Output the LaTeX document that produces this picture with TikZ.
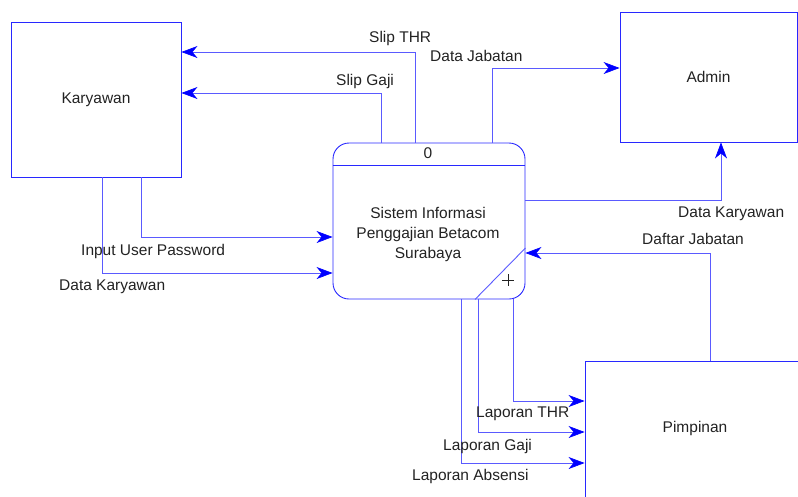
\documentclass[tikz,border=0pt]{standalone}
\usepackage{fontspec}
\setmainfont{Liberation Sans}
\usetikzlibrary{arrows.meta}
\definecolor{flowblue}{RGB}{90,90,255}
\definecolor{edgeblue}{RGB}{40,40,255}
\definecolor{tipblue}{RGB}{0,0,255}
\definecolor{inkgray}{RGB}{34,34,34}
\begin{document}
\begin{tikzpicture}[x=1pt,y=-1pt,
  every node/.style={font=\fontsize{15.5}{17}\selectfont, text=inkgray},
  entity/.style={draw=edgeblue, line width=0.9pt, rectangle, inner sep=0pt},
  procbox/.style={draw=edgeblue, line width=0.9pt, rectangle, rounded corners=16pt,
    minimum width=192pt, minimum height=156pt, inner sep=0pt},
  edge/.style={draw=edgeblue, line width=0.9pt},
  flow/.style={draw=flowblue, line width=0.8pt,
    -{Stealth[length=16pt,width=12pt,inset=5pt,line width=0.6pt,color=tipblue,fill=tipblue]}},
  lbl/.style={anchor=west, inner sep=0pt},
]
\useasboundingbox (0,0) rectangle (798,496);
\clip (0,0) rectangle (798,496);

% external entities
\node[entity, minimum width=170pt, minimum height=155pt] (kary) at (96,99.5) {Karyawan};
\node[entity, minimum width=177pt, minimum height=130pt] (admin) at (708.5,77) {Admin};
\node[entity, minimum width=220pt, minimum height=150pt] (pimp) at (695,436) {};
\node (pimptext) at (695,428) {Pimpinan};

% process
\node[procbox] (proc) at (429,221) {};
\coordinate (hdr) at (0,165);
\draw[edge] (proc.west |- hdr) -- (proc.east |- hdr);
\coordinate (dg1) at (475,0);
\coordinate (dg2) at (0,248);
\draw[edge, draw=flowblue] (proc.south -| dg1) -- (proc.east |- dg2);
\node (pnum) at (428,153) {0};
\node[align=center, font=\fontsize{15.5}{20}\selectfont] (ptext) at (428,234)
  {Sistem Informasi\\Penggajian Betacom\\Surabaya};
\draw[draw=inkgray, line width=0.7pt] (502,280) -- (514,280) (508,274) -- (508,286);

% bend coordinates of the data flows
\coordinate (sT) at (415,52);
\coordinate (sG) at (381,93);
\coordinate (dJ) at (492,68);
\coordinate (dK) at (721,200);
\coordinate (fJ) at (710,253);
\coordinate (iU) at (141,237);
\coordinate (dL) at (102,273);
\coordinate (lT) at (513,401);
\coordinate (lG) at (478,432);
\coordinate (lA) at (461,463);

% data flows
\draw[flow] (proc.north -| sT) |- (kary.east |- sT);
\draw[flow] (proc.north -| sG) |- (kary.east |- sG);
\draw[flow] (proc.north -| dJ) |- (admin.west |- dJ);
\draw[flow] (proc.east |- dK) -| (admin.south -| dK);
\draw[flow] (pimp.north -| fJ) |- (proc.east |- fJ);
\draw[flow] (kary.south -| iU) |- (proc.west |- iU);
\draw[flow] (kary.south -| dL) |- (proc.west |- dL);
\draw[flow] (proc.south -| lT) |- (pimp.west |- lT);
\draw[flow] (proc.south -| lG) |- (pimp.west |- lG);
\draw[flow] (proc.south -| lA) |- (pimp.west |- lA);

% flow labels
\node[lbl] (tSlipThr) at (369,38) {Slip THR};
\node[lbl] (tSlipGaji) at (336,81) {Slip Gaji};
\node[lbl] (tDataJab) at (430,56) {Data Jabatan};
\node[lbl] (tDataKarA) at (678,214) {Data Karyawan};
\node[lbl] (tDaftarJab) at (642,239) {Daftar Jabatan};
\node[lbl] (tInput) at (81,251) {Input User Password};
\node[lbl] (tDataKarK) at (59,287) {Data Karyawan};
\node[lbl] (tLapThr) at (476,414) {Laporan THR};
\node[lbl] (tLapGaji) at (443,446) {Laporan Gaji};
\node[lbl] (tLapAbs) at (412,476) {Laporan Absensi};
\end{tikzpicture}
\end{document}
